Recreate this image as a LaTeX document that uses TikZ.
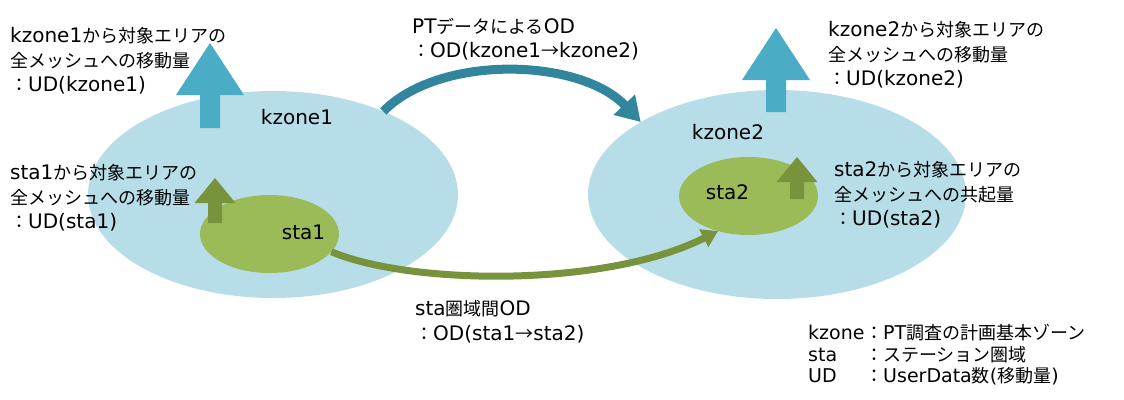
\documentclass[tikz,border=0pt]{standalone}
\usepackage{fontspec}
\setmainfont{DejaVu Sans}
\newfontfamily\jp{Noto Sans CJK JP}[Scale=0.9]
\usetikzlibrary{arrows.meta,shapes.geometric}
\newcommand\J[1]{{\jp #1}}

\definecolor{zonefill}{HTML}{B7DEE8}
\definecolor{stafill}{HTML}{9BBB59}
\definecolor{zoneup}{HTML}{4BACC6}
\definecolor{staup}{HTML}{77933C}
\definecolor{odteal}{HTML}{31859C}

\tikzset{
  zone/.style={ellipse, fill=zonefill, inner sep=0pt, outer sep=0pt},
  station/.style={ellipse, fill=stafill, inner sep=0pt, outer sep=0pt},
  lbl/.style={font=\fontsize{20}{24}\selectfont, inner sep=0pt, text=black},
  txt/.style={font=\fontsize{20}{24.5}\selectfont, inner sep=0pt, align=left, anchor=west, text=black},
  legendtxt/.style={font=\fontsize{19}{21.5}\selectfont, inner sep=0pt, align=left, anchor=west, text=black},
  ptflow/.style={draw=odteal, line width=9pt, -{Triangle[length=24pt,width=28pt]}},
  staflow/.style={draw=staup, line width=7pt, -{Triangle[length=16pt,width=19pt]}},
  % block arrow pointing up: shaft half-width, head half-width, head base height, tip height
  pics/uparrow/.style n args={4}{code={
    \path[pic actions] (-#1,0) -- (-#1,-#3) -- (-#2,-#3) -- (0,-#4)
      -- (#2,-#3) -- (#1,-#3) -- (#1,0) -- cycle;
  }},
}

\begin{document}
\begin{tikzpicture}[x=1pt,y=-1pt]
\useasboundingbox (0,0) rectangle (1124,399);

% zones and stations
\node[zone, minimum width=370pt, minimum height=207pt] (kz1) at (273,194.5) {};
\node[zone, minimum width=378pt, minimum height=209pt] (kz2) at (777,194.5) {};
\node[station, minimum width=139pt, minimum height=78pt] (st1) at (269.5,234) {};
\node[station, minimum width=139pt, minimum height=78pt] (st2) at (748.5,196) {};

% outgoing volumes
\pic[fill=zoneup] (up1) at (210,128) {uparrow={10}{34}{33}{85}};
\pic[fill=zoneup] (up2) at (776,112) {uparrow={10}{34}{32}{84}};
\pic[fill=staup] (up3) at (215,223) {uparrow={7}{20.5}{20}{45}};
\pic[fill=staup] (up4) at (797,199) {uparrow={7}{20.5}{17}{42}};

% OD flows
\draw[ptflow] (kz1.37.2) .. controls (440,54) and (580,58) .. (kz2.152);
\draw[staflow] (st1.-16) .. controls (410,285) and (605,288) .. (st2.229);

% names inside the ellipses
\node[lbl, anchor=base] (kz1l) at (297,124) {kzone1};
\node[lbl, anchor=base] (st1l) at (303.5,239) {sta1};
\node[lbl, anchor=base] (kz2l) at (728,139) {kzone2};
\node[lbl, anchor=base] (st2l) at (727.5,199) {sta2};

% explanations
\node[txt] (t1) at (10,61) {kzone1\J{から対象エリアの}\\\J{全メッシュへの移動量}\\\J{：}UD(kzone1)};
\node[txt] (t2) at (10,198) {sta1\J{から対象エリアの}\\\J{全メッシュへの移動量}\\\J{：}UD(sta1)};
\node[txt] (t3) at (828,55) {kzone2\J{から対象エリアの}\\\J{全メッシュへの移動量}\\\J{：}UD(kzone2)};
\node[txt] (t4) at (834,195) {sta2\J{から対象エリアの}\\\J{全メッシュへの共起量}\\\J{：}UD(sta2)};
\node[txt] (t5) at (412,39) {PT\J{データによる}OD\\\J{：}OD(kzone1\J{→}kzone2)};
\node[txt] (t6) at (415,322) {sta\J{圏域間}OD\\\J{：}OD(sta1\J{→}sta2)};

% legend
\node[legendtxt] (lg) at (808,355) {%
  \makebox[57pt][l]{kzone}{\jp\fontsize{20}{21.5}\selectfont ：}PT{\jp\fontsize{20}{21.5}\selectfont 調査の計画基本ゾーン}\\
  \makebox[57pt][l]{sta}{\jp\fontsize{20}{21.5}\selectfont ：ステーション圏域}\\
  \makebox[57pt][l]{UD}{\jp\fontsize{20}{21.5}\selectfont ：}UserData{\jp\fontsize{20}{21.5}\selectfont 数}({\jp\fontsize{20}{21.5}\selectfont 移動量})};
\end{tikzpicture}
\end{document}
